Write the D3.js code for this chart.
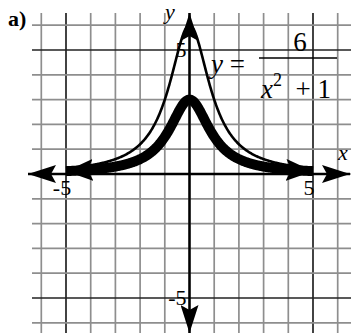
<!DOCTYPE html>
<html>
<head>
<meta charset="utf-8">
<script src="https://cdn.jsdelivr.net/npm/d3@7"></script>
<style>
  html, body { margin: 0; padding: 0; background: #fff; }
  svg { display: block; }
  text { font-family: "Liberation Serif", "Times New Roman", serif; fill: #000; }
</style>
</head>
<body>
<svg id="chart" width="351" height="333"></svg>
<script>
// Grid lines (integer units) and the labelled ticks
const gridValues = [-6, -5, -4, -3, -2, -1, 0, 1, 2, 3, 4, 5, 6];
const darkGrid = [-5, 5];
const xTickLabels = [{ v: -5, t: "-5" }, { v: 5, t: "5" }];
const yTickLabels = [{ v: 5, t: "5" }, { v: -5, t: "-5" }];

// Curves y = a / (x^2 + 1): the given function and the scaled one
const curveNames = ["given", "scaled"];
const curveNumerators = [6, 3];
const curveWidths = [2.6, 10];
const curveXRange = [-5, 5];

const svg = d3.select("#chart");
const x = d3.scaleLinear().domain([-5, 5]).range([66, 313]);
const y = d3.scaleLinear().domain([-5, 5]).range([298, 50]);

// Arrowhead markers
const defs = svg.append("defs");
function arrowMarker(id, len, half) {
  defs.append("marker")
    .attr("id", id)
    .attr("viewBox", `0 ${-half} ${len} ${2 * half}`)
    .attr("refX", len).attr("refY", 0)
    .attr("markerUnits", "userSpaceOnUse")
    .attr("markerWidth", len).attr("markerHeight", 2 * half)
    .attr("orient", "auto-start-reverse")
    .append("path")
    .attr("d", `M0,${-half} L${len},0 L0,${half} L5,0 Z`)
    .attr("fill", "#000");
}
arrowMarker("axisArrow", 28, 9);
arrowMarker("curveArrow", 27, 11);

// Grid
const grid = svg.append("g");
grid.selectAll("line.v").data(gridValues).join("line")
  .attr("x1", d => x(d)).attr("x2", d => x(d))
  .attr("y1", 13).attr("y2", 333)
  .attr("stroke", d => darkGrid.includes(d) ? "#222" : "#8e8e8e")
  .attr("stroke-width", 1.7);
grid.selectAll("line.h").data(gridValues).join("line")
  .attr("y1", d => y(d)).attr("y2", d => y(d))
  .attr("x1", 32).attr("x2", 351)
  .attr("stroke", d => darkGrid.includes(d) ? "#222" : "#8e8e8e")
  .attr("stroke-width", 1.7);

// Axes with arrows at both ends
svg.append("line")
  .attr("x1", 28).attr("x2", 350)
  .attr("y1", y(0)).attr("y2", y(0))
  .attr("stroke", "#000").attr("stroke-width", 2.5)
  .attr("marker-start", "url(#axisArrow)")
  .attr("marker-end", "url(#axisArrow)");
svg.append("line")
  .attr("x1", x(0)).attr("x2", x(0))
  .attr("y1", 13).attr("y2", 333)
  .attr("stroke", "#000").attr("stroke-width", 2.5)
  .attr("marker-start", "url(#axisArrow)")
  .attr("marker-end", "url(#axisArrow)");

// Curves
const line = d3.line().x(d => x(d[0])).y(d => y(d[1])).curve(d3.curveLinear);
const xs = d3.range(curveXRange[0], curveXRange[1] + 1e-9, 0.02);
curveNames.forEach((name, i) => {
  const a = curveNumerators[i];
  const pts = xs.map(v => [v, a / (v * v + 1)]);
  svg.append("path")
    .attr("class", "curve-" + name)
    .attr("d", line(pts))
    .attr("fill", "none")
    .attr("stroke", "#000")
    .attr("stroke-width", curveWidths[i])
    .attr("stroke-linejoin", "round")
    .attr("marker-start", i === 1 ? "url(#curveArrow)" : null)
    .attr("marker-end", i === 1 ? "url(#curveArrow)" : null);
});

// Tick labels
svg.selectAll("text.xt").data(xTickLabels).join("text")
  .attr("x", d => x(d.v) - 4).attr("y", y(0) + 21)
  .attr("text-anchor", "middle").attr("font-size", 22)
  .text(d => d.t);
svg.selectAll("text.yt").data(yTickLabels).join("text")
  .attr("x", x(0) - 3).attr("y", d => y(d.v) + 7)
  .attr("text-anchor", "end").attr("font-size", 22)
  .text(d => d.t);

// Axis names
svg.append("text").attr("x", 165).attr("y", 19)
  .attr("font-size", 22).attr("font-style", "italic").text("y");
svg.append("text").attr("x", 338).attr("y", 160)
  .attr("font-size", 22).attr("font-style", "italic").text("x");

// Part label
svg.append("text").attr("x", 8).attr("y", 26)
  .attr("font-size", 22).attr("font-weight", "bold").text("a)");

// Equation y = 6 / (x^2 + 1)
const eq = svg.append("g");
eq.append("text").attr("x", 211).attr("y", 73).attr("font-size", 27)
  .html('<tspan font-style="italic">y</tspan> =');
eq.append("line").attr("x1", 259).attr("x2", 337).attr("y1", 58).attr("y2", 58)
  .attr("stroke", "#000").attr("stroke-width", 1.6);
eq.append("text").attr("x", 300).attr("y", 51).attr("text-anchor", "middle")
  .attr("font-size", 27).text("6");
eq.append("text").attr("x", 261).attr("y", 98).attr("font-size", 27)
  .html('<tspan font-style="italic">x</tspan><tspan dy="-12" font-size="18">2</tspan><tspan dy="12" xml:space="preserve">  + 1</tspan>');
</script>
</body>
</html>
